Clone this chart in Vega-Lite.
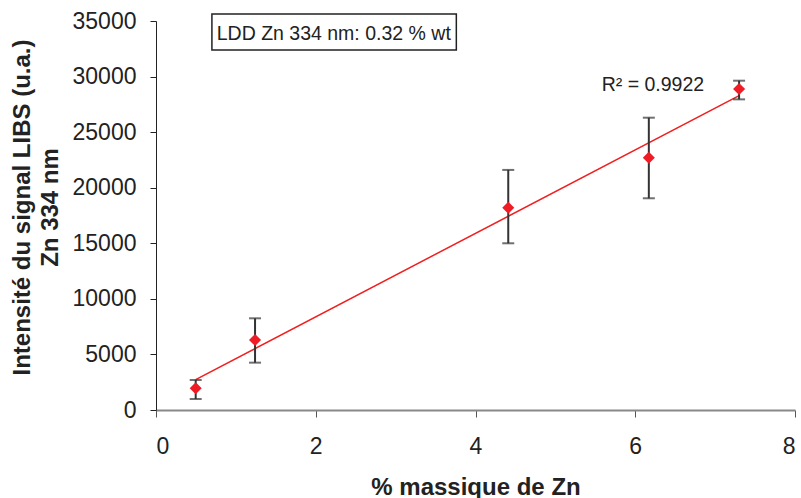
{
  "$schema": "https://vega.github.io/schema/vega-lite/v6.json",
  "autosize": "none",
  "width": 639,
  "height": 389,
  "padding": {"left": 156, "top": 21, "right": 6, "bottom": 88},
  "background": "white",
  "config": {
    "font": "Liberation Sans",
    "view": {"stroke": null},
    "axis": {"grid": false, "labelFont": "Liberation Sans", "titleFont": "Liberation Sans"}
  },
  "datasets": {
    "pts": [
      {"pct": 0.497, "signal": 1950, "lo": 990, "hi": 2700},
      {"pct": 1.24, "signal": 6300, "lo": 4260, "hi": 8250},
      {"pct": 4.41, "signal": 18200, "lo": 15000, "hi": 21600},
      {"pct": 6.17, "signal": 22700, "lo": 19050, "hi": 26300},
      {"pct": 7.30, "signal": 28880, "lo": 27950, "hi": 29630}
    ],
    "box": [{"x1": 0.70, "x2": 3.76, "y1": 32390, "y2": 35630, "label": "LDD Zn 334 nm: 0.32 % wt", "tx": 0.76, "ty": 33300}],
    "r2": [{"x": 5.58, "y": 28700, "label": "R² = 0.9922"}]
  },
  "layer": [
    {
      "data": {"name": "pts"},
      "transform": [{"regression": "signal", "on": "pct", "method": "linear", "extent": [0.497, 7.30]}],
      "mark": {"type": "line", "color": "#f01e1e", "strokeWidth": 1.5},
      "encoding": {
        "x": {"field": "pct", "type": "quantitative", "scale": {"domain": [0, 8]}, "title": "% massique de Zn",
          "axis": {"values": [0, 2, 4, 6, 8], "format": "d", "titleFontSize": 24, "titleFontWeight": "bold", "titleColor": "#222", "titlePadding": 17,
            "labelFontSize": 23, "labelColor": "#222", "labelPadding": 18, "domainColor": "#888", "domainWidth": 2, "tickColor": "#555", "tickSize": 7}},
        "y": {"field": "signal", "type": "quantitative", "scale": {"domain": [0, 35000]}, "title": ["Intensité du signal LIBS (u.a.)", "Zn 334 nm"],
          "axis": {"values": [0, 5000, 10000, 15000, 20000, 25000, 30000, 35000], "format": "d",
            "titleFontSize": 24, "titleFontWeight": "bold", "titleColor": "#222", "titlePadding": 10, "titleLineHeight": 28, "titleY": 186,
            "labelFontSize": 23, "labelColor": "#222", "labelPadding": 14, "domainColor": "#222", "domainWidth": 1, "tickColor": "#222", "tickSize": 6}}
      }
    },
    {
      "data": {"name": "pts"},
      "mark": {"type": "errorbar", "ticks": {"size": 12, "color": "#333", "thickness": 2}, "rule": {"color": "#333", "strokeWidth": 2}},
      "encoding": {
        "x": {"field": "pct", "type": "quantitative", "title": "% massique de Zn"},
        "y": {"field": "lo", "type": "quantitative", "title": ["Intensité du signal LIBS (u.a.)", "Zn 334 nm"]},
        "y2": {"field": "hi"}
      }
    },
    {
      "data": {"name": "pts"},
      "mark": {"type": "point", "shape": "diamond", "filled": true, "color": "#ee1c24", "size": 145, "opacity": 1},
      "encoding": {
        "x": {"field": "pct", "type": "quantitative", "title": "% massique de Zn"},
        "y": {"field": "signal", "type": "quantitative", "title": ["Intensité du signal LIBS (u.a.)", "Zn 334 nm"]}
      }
    },
    {
      "data": {"name": "box"},
      "mark": {"type": "rect", "fill": "white", "stroke": "#222", "strokeWidth": 1.5},
      "encoding": {
        "x": {"field": "x1", "type": "quantitative", "title": "% massique de Zn"},
        "x2": {"field": "x2"},
        "y": {"field": "y1", "type": "quantitative", "title": ["Intensité du signal LIBS (u.a.)", "Zn 334 nm"]},
        "y2": {"field": "y2"}
      }
    },
    {
      "data": {"name": "box"},
      "mark": {"type": "text", "align": "left", "baseline": "alphabetic", "fontSize": 19.5, "color": "#222"},
      "encoding": {
        "x": {"field": "tx", "type": "quantitative", "title": "% massique de Zn"},
        "y": {"field": "ty", "type": "quantitative", "title": ["Intensité du signal LIBS (u.a.)", "Zn 334 nm"]},
        "text": {"field": "label"}
      }
    },
    {
      "data": {"name": "r2"},
      "mark": {"type": "text", "align": "left", "baseline": "alphabetic", "fontSize": 19.5, "color": "#222"},
      "encoding": {
        "x": {"field": "x", "type": "quantitative", "title": "% massique de Zn"},
        "y": {"field": "y", "type": "quantitative", "title": ["Intensité du signal LIBS (u.a.)", "Zn 334 nm"]},
        "text": {"field": "label"}
      }
    }
  ]
}
